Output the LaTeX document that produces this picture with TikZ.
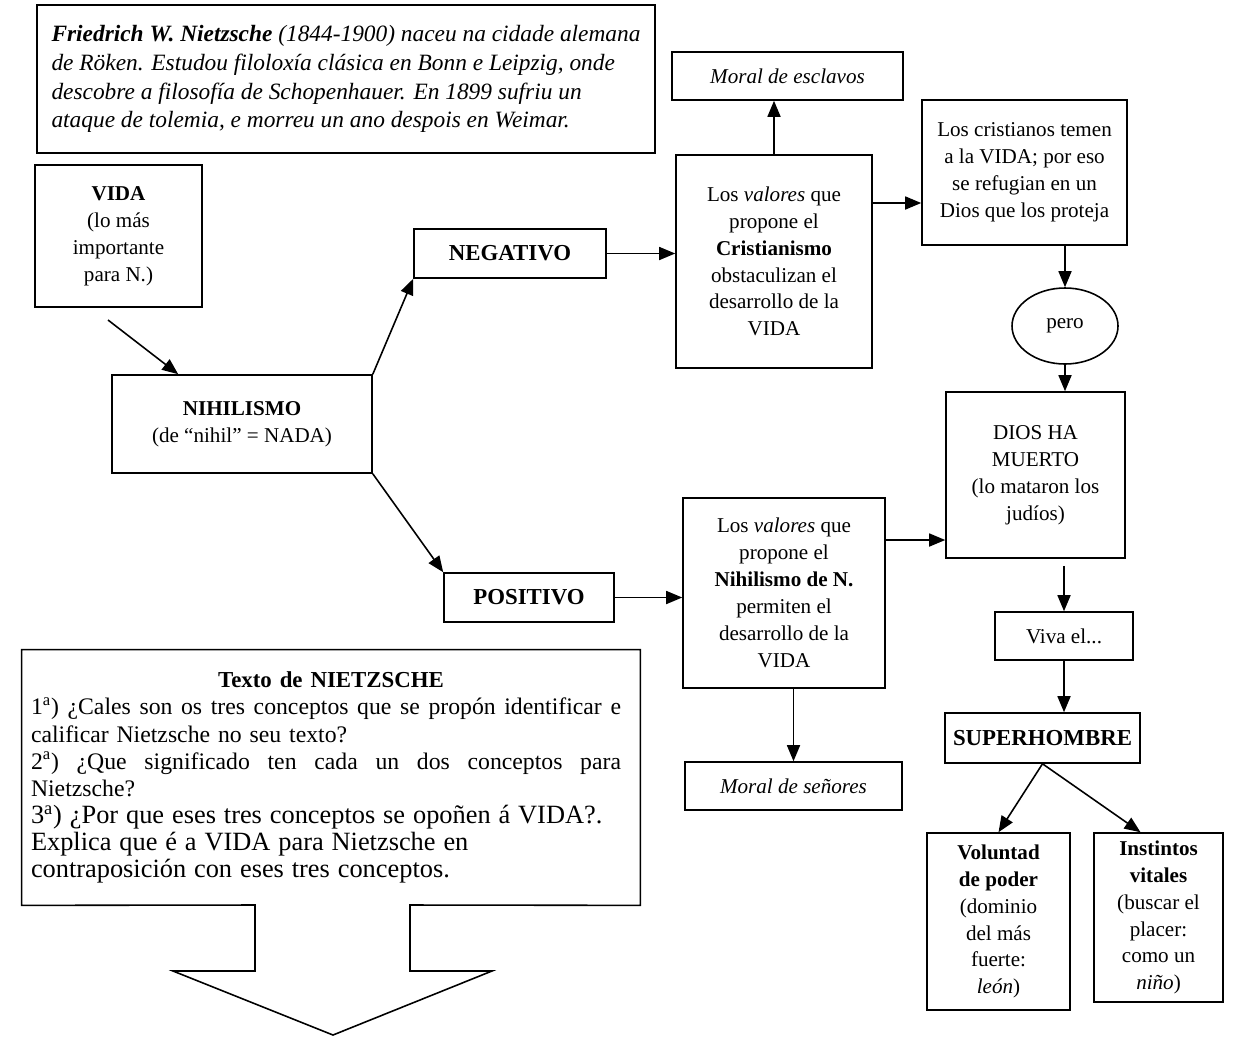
\documentclass[tikz,border=0pt]{standalone}
\usepackage{fontspec}
\setmainfont{Liberation Serif}
\usetikzlibrary{arrows.meta, positioning, shapes.geometric, calc}

\begin{document}
\begin{tikzpicture}[every node/.style={font=\fontsize{12}{15.3}\selectfont, align=center, inner sep=0pt},
  box/.style={draw, line width=0.9pt},
  hd/.style={box, font=\fontsize{13}{15}\selectfont\bfseries},
  arr/.style={line width=0.9pt, -{Triangle[length=0.32cm,width=0.26cm]}}]
\useasboundingbox (0,0) rectangle (24.78,-20.78);
\node[box, align=left, minimum width=12.36cm, minimum height=2.96cm, font=\fontsize{13.3}{16.4}\selectfont\itshape] (bio) at (6.92,-1.58) {\textbf{Friedrich W. Nietzsche} (1844-1900) naceu na cidade alemana\\de Röken. Estudou filoloxía clásica en Bonn e Leipzig, onde\\descobre a filosofía de Schopenhauer. En 1899 sufriu un\\ataque de tolemia, e morreu un ano despois en Weimar.};
\node[box, minimum width=3.34cm, minimum height=2.84cm] (vida) at (2.37,-4.72) {\textbf{VIDA}\\(lo más\\importante\\para N.)};
\node[box, minimum width=5.2cm, minimum height=1.96cm] (nihil) at (4.84,-8.48) {\textbf{NIHILISMO}\\(de “nihil” = NADA)};
\node[hd, minimum width=3.84cm, minimum height=0.98cm] (neg) at (10.2,-5.07) {NEGATIVO};
\node[hd, minimum width=3.4cm, minimum height=0.98cm] (pos) at (10.58,-11.95) {POSITIVO};
\node[box, minimum width=4.62cm, minimum height=0.96cm] (escl) at (15.75,-1.52) {\textit{Moral de esclavos}};
\node[box, minimum width=3.92cm, minimum height=4.26cm] (crist) at (15.48,-5.23) {Los \textit{valores} que\\propone el\\\textbf{Cristianismo}\\obstaculizan el\\desarrollo de la\\VIDA};
\node[box, minimum width=4.1cm, minimum height=2.9cm] (temen) at (20.49,-3.45) {Los cristianos temen\\a la VIDA; por eso\\se refugian en un\\Dios que los proteja};
\node[box, ellipse, minimum width=2.12cm, minimum height=1.52cm] (pero) at (21.3,-6.52) {pero};
\node[box, minimum width=3.58cm, minimum height=3.32cm] (dios) at (20.71,-9.5) {DIOS HA\\MUERTO\\(lo mataron los\\judíos)};
\node[box, minimum width=4.04cm, minimum height=3.8cm] (nihN) at (15.68,-11.86) {Los \textit{valores} que\\propone el\\\textbf{Nihilismo de N.}\\permiten el\\desarrollo de la\\VIDA};
\node[box, minimum width=4.34cm, minimum height=0.96cm] (senores) at (15.87,-15.72) {\textit{Moral de señores}};
\node[box, minimum width=2.76cm, minimum height=0.96cm] (viva) at (21.28,-12.72) {Viva el...};
\node[hd, minimum width=3.9cm, minimum height=1cm] (super) at (20.85,-14.76) {SUPERHOMBRE};
\node[box, minimum width=2.86cm, minimum height=3.54cm] (volun) at (19.97,-18.43) {\textbf{Voluntad}\\\textbf{de poder}\\(dominio\\del más\\fuerte:\\\textit{león})};
\node[box, minimum width=2.58cm, minimum height=3.38cm] (instin) at (23.17,-18.35) {\textbf{Instintos}\\\textbf{vitales}\\(buscar el\\placer:\\como un\\\textit{niño})};
\node[minimum width=12.36cm, minimum height=5.1cm, text width=12cm, align=left, font=\fontsize{13.5}{15.4}\selectfont] (texto) at (6.62,-15.55) {\makebox[\hsize]{\fontsize{13}{15}\selectfont\textbf{Texto de NIETZSCHE}}\\
\makebox[11.8cm][s]{\spaceskip=0.25em plus 1em 1\textsuperscript{a}) ¿Cales son os tres conceptos que se propón identificar e}\\
calificar Nietzsche no seu texto?\\
\makebox[11.8cm][s]{\spaceskip=0.25em plus 1em 2\textsuperscript{a}) ¿Que significado ten cada un dos conceptos para}\\
Nietzsche?\\
{\fontsize{15}{15.4}\selectfont 3\textsuperscript{a}) ¿Por que eses tres conceptos se opoñen á VIDA?.}\\
{\fontsize{15}{15.4}\selectfont Explica que é a VIDA para Nietzsche en}\\
{\fontsize{15}{15.4}\selectfont contraposición con eses tres conceptos.}};
\draw[line width=0.9pt] (5.1,-18.1) -- (texto.south west) -- (texto.north west) -- (texto.north east) -- (texto.south east) -- (8.2,-18.1) -- (8.2,-19.42) -- (9.84,-19.42) -- (6.66,-20.7) -- (3.46,-19.42) -- (5.1,-19.42) -- cycle;
\coordinate (vgap) at (2.16,-6.4);
\coordinate (cy) at (0,-4.06);
\coordinate (ny) at (0,-10.8);
\coordinate (dgap) at ([yshift=-0.14cm]dios.south);
\draw[arr] (vgap) -- ([xshift=1.34cm]nihil.north west);
\draw[arr] (nihil.north east) -- (neg.south west);
\draw[arr] (nihil.south east) -- (pos.north west);
\draw[arr] (neg.east) -- (neg.east -| crist.west);
\draw[arr] (crist.north) -- (crist.north |- escl.south);
\draw[arr] (crist.east |- cy) -- (temen.west |- cy);
\draw[arr] (temen.south -| pero.north) -- (pero.north);
\draw[arr] (pero.south) -- (pero.south |- dios.north);
\draw[arr] (pos.east) -- (pos.east -| nihN.west);
\draw[arr] (nihN.east |- ny) -- (dios.west |- ny);
\draw[arr] (nihN.south -| senores.north) -- (senores.north);
\draw[arr] (dgap -| viva.north) -- (viva.north);
\draw[arr] (viva.south) -- (viva.south |- super.north);
\draw[arr] (super.south) -- (volun.north);
\draw[arr] (super.south) -- ([xshift=-0.36cm]instin.north);
\end{tikzpicture}
\end{document}
